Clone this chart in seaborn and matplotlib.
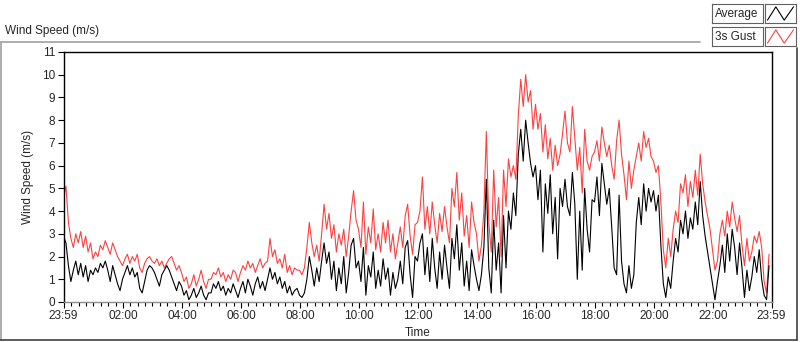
import numpy as np
import pandas as pd
import matplotlib
matplotlib.use('Agg')
import matplotlib.pyplot as plt
import matplotlib.dates as mdates
from matplotlib.lines import Line2D
import seaborn as sns

#DATA (5 minute samples, one row per hour)
######################################################
gust = [
    4.6, 5.1, 3.5, 2.8, 2.4, 3.0, 2.6, 3.1, 2.4, 2.9, 2.2, 2.6,
    1.9, 2.2, 2.0, 2.5, 2.3, 2.7, 2.4, 2.1, 2.6, 2.3, 2.0, 1.8,
    1.6, 1.9, 2.1, 1.7, 2.0, 1.8, 2.1, 1.5, 1.3, 1.7, 1.9, 2.0,
    1.8, 1.7, 1.9, 1.6, 1.8, 1.5, 1.7, 1.9, 2.0, 1.7, 1.4, 1.6,
    1.3, 0.9, 1.1, 0.6, 0.8, 1.2, 0.7, 1.0, 1.4, 0.9, 0.6, 1.0,
    1.0, 1.3, 1.2, 1.5, 1.1, 1.3, 0.9, 1.2, 1.0, 1.4, 1.3, 0.9,
    1.3, 1.6, 1.4, 1.8, 1.5, 1.7, 1.3, 1.6, 1.9, 1.5, 1.7, 1.8,
    2.8, 2.0, 2.3, 1.7, 1.9, 1.5, 2.1, 1.3, 1.6, 1.2, 1.5, 1.4,
    1.4, 1.2, 1.5, 2.4, 3.5, 2.6, 2.0, 2.5, 1.8, 3.0, 4.3, 3.2,
    3.9, 2.8, 3.4, 2.2, 3.0, 2.5, 3.2, 2.0, 2.9, 4.0, 4.9, 3.6,
    3.2, 2.4, 4.4, 2.1, 3.3, 2.6, 4.1, 2.3, 3.0, 2.2, 3.5, 2.6,
    3.6, 2.2, 3.0, 1.9, 2.6, 3.3, 2.4, 3.8, 4.3, 2.9, 2.1, 3.4,
    3.5, 4.0, 5.5, 3.2, 4.2, 3.0, 4.4, 3.4, 2.6, 3.9, 3.1, 4.2,
    3.3, 2.6, 5.0, 4.2, 5.7, 3.6, 4.8, 2.9, 3.8, 2.4, 4.4, 3.5,
    3.0, 1.8, 2.5, 4.0, 7.5, 3.5, 2.2, 5.8, 3.3, 4.6, 2.0, 5.8,
    4.2, 6.3, 5.5, 6.0, 5.4, 8.2, 9.8, 8.6, 10.0, 8.8, 9.3, 7.6,
    8.7, 7.6, 8.3, 6.6, 7.8, 6.3, 7.2, 5.8, 6.9, 6.0, 6.5, 7.4,
    8.4, 7.0, 6.6, 8.6, 7.2, 5.8, 6.8, 4.8, 7.6, 6.2, 5.8, 6.4,
    6.6, 7.1, 6.2, 7.7, 7.0, 6.4, 6.9, 6.0, 5.4, 7.1, 8.0, 6.5,
    5.6, 4.5, 6.2, 5.0, 5.8, 6.4, 7.0, 6.2, 7.5, 6.8, 7.2, 6.4,
    6.2, 5.7, 6.0, 4.4, 2.3, 1.5, 2.8, 2.0, 3.2, 4.0, 3.5, 5.2,
    4.8, 5.6, 4.2, 5.3, 4.6, 5.8, 4.7, 6.5, 5.2, 4.4, 3.8, 3.2,
    2.3, 1.4, 1.8, 3.0, 3.6, 2.9, 4.0, 3.3, 4.4, 3.7, 3.1, 3.8,
    2.5, 1.6, 2.8, 1.8, 2.2, 2.9, 2.6, 3.1, 2.4, 0.9, 0.4, 2.1,
]

average = [
    2.9, 2.6, 1.6, 0.9, 1.4, 1.8, 1.2, 1.7, 1.1, 1.6, 0.9, 1.4,
    1.2, 1.5, 1.3, 1.7, 1.5, 1.8, 1.4, 0.9, 1.6, 1.2, 0.8, 0.5,
    1.0, 1.3, 1.6, 1.2, 1.5, 1.1, 1.3, 0.6, 0.4, 0.9, 1.4, 1.6,
    1.5, 1.3, 1.0, 0.7, 1.2, 1.4, 1.6, 1.4, 1.1, 0.8, 0.5, 0.9,
    0.7, 0.3, 0.5, 0.1, 0.3, 0.6, 0.2, 0.4, 0.7, 0.3, 0.1, 0.4,
    0.4, 0.8, 0.6, 0.9, 0.5, 0.7, 0.3, 0.6, 0.4, 0.8, 0.5, 0.2,
    0.6, 0.9, 0.4, 1.0, 0.7, 0.3, 0.8, 1.1, 0.6, 0.9, 0.5, 1.0,
    1.5, 1.0, 1.3, 0.8, 1.1, 0.6, 0.9, 0.4, 0.7, 0.3, 0.5, 0.6,
    0.3, 0.2, 0.4, 1.0, 2.0, 1.4, 0.7, 1.5, 0.9, 1.8, 2.6, 1.7,
    2.2, 1.0, 1.8, 0.5, 1.5, 0.8, 2.0, 0.4, 1.3, 2.5, 2.8, 1.5,
    1.8, 0.9, 2.4, 0.3, 1.6, 1.1, 2.2, 0.6, 1.4, 0.7, 1.9, 1.0,
    1.5, 0.3, 1.3, 0.6, 1.0, 1.8, 0.8, 2.4, 2.7, 1.2, 0.2, 2.0,
    1.8, 2.6, 3.0, 1.2, 2.4, 0.9, 2.8, 1.5, 0.6, 2.2, 1.0, 2.5,
    1.5, 0.6, 2.8, 1.9, 3.4, 1.4, 2.6, 0.7, 1.8, 0.5, 2.3, 1.6,
    1.0, 0.5, 1.2, 2.4, 5.4, 1.5, 0.4, 3.6, 1.4, 2.6, 0.4, 3.8,
    1.5, 4.0, 3.2, 4.8, 3.8, 6.5, 7.6, 6.2, 8.0, 7.0, 6.1, 5.5,
    6.0, 4.5, 5.8, 2.2, 5.2, 3.9, 5.6, 3.0, 4.6, 1.9, 5.0, 4.2,
    5.4, 4.2, 3.8, 5.7, 4.3, 1.0, 4.0, 1.4, 5.0, 3.2, 2.2, 4.5,
    4.4, 5.5, 3.8, 6.1, 5.2, 4.3, 5.0, 3.3, 1.5, 1.2, 4.7, 1.8,
    0.8, 0.4, 1.6, 0.6, 1.2, 3.5, 4.6, 3.4, 5.2, 4.0, 5.0, 4.4,
    4.9, 4.0, 4.7, 2.5, 0.8, 0.2, 1.1, 0.6, 1.8, 2.8, 2.2, 3.6,
    3.0, 4.0, 2.8, 3.7, 3.2, 4.4, 3.4, 5.3, 3.8, 2.9, 2.2, 1.5,
    0.8, 0.1, 0.9, 1.6, 2.5, 1.3, 3.0, 1.8, 3.2, 2.4, 1.2, 2.6,
    1.5, 0.2, 1.4, 0.5, 1.1, 2.0, 1.3, 2.3, 1.0, 0.3, 0.1, 1.6,
]

series_names = ['3s Gust', 'Average']
series_colors = {'3s Gust': '#ff4040', 'Average': 'black'}
start_time = pd.Timestamp('2024-01-01 23:59')
end_time = pd.Timestamp('2024-01-02 23:59')
y_ticks = list(range(0, 12))

times = pd.date_range(start_time, periods=len(gust), freq='5min')
df = pd.DataFrame({
    'Time': np.concatenate([times, times]),
    'Wind Speed': gust + average,
    'Series': ['3s Gust'] * len(gust) + ['Average'] * len(average),
})

#PLOT
######################################################
sns.set_style('ticks')
plt.rcParams['font.family'] = ['Liberation Sans', 'DejaVu Sans']
plt.rcParams['font.size'] = 8.5

fig = plt.figure(figsize=(8, 3.42), dpi=100)
ax = fig.add_axes([63.5 / 800, 1 - 302 / 342, 708 / 800, 250 / 342])

sns.lineplot(data=df, x='Time', y='Wind Speed', hue='Series', hue_order=series_names,
             palette=series_colors, linewidth=0.8, legend=False, ax=ax)

ax.set_xlim(start_time, end_time)
ax.set_ylim(0, 11)
ax.set_yticks(y_ticks)

major = [start_time] + list(pd.date_range('2024-01-02 02:00', '2024-01-02 22:00', freq='2h')) + [end_time]
ax.set_xticks(major)
ax.xaxis.set_major_formatter(mdates.DateFormatter('%H:%M'))
ax.set_xticks(pd.date_range('2024-01-02 00:15', '2024-01-02 23:45', freq='15min'), minor=True)

ax.tick_params(axis='both', which='major', length=4, width=0.8, labelsize=8.5, color='black', pad=2)
ax.tick_params(axis='x', which='minor', length=3, width=0.8, color='black')

for s in ['top', 'left', 'right']:
    ax.spines[s].set_color('black')
    ax.spines[s].set_linewidth(1.0)
ax.spines['bottom'].set_color('#8c8c8c')
ax.spines['bottom'].set_linewidth(1.0)

ax.set_xlabel('Time', fontsize=8.5, labelpad=3)
ax.set_ylabel('Wind Speed (m/s)', fontsize=8.5, labelpad=6)

#Panel frame and label
fig.text(5 / 800, 1 - 31 / 342, 'Wind Speed (m/s)', va='center', ha='left', fontsize=8.5)
fig.add_artist(Line2D([0.5 / 800, 700 / 800], [1 - 42 / 342, 1 - 42 / 342], color='#a0a0a0', lw=1.2, transform=fig.transFigure))
fig.add_artist(Line2D([1 / 800, 1 / 800], [1 - 42 / 342, 1 - 340 / 342], color='#a0a0a0', lw=1.2, transform=fig.transFigure))
fig.add_artist(Line2D([0, 797 / 800], [1 - 340 / 342, 1 - 340 / 342], color='#404040', lw=1.2, transform=fig.transFigure))
fig.add_artist(Line2D([797 / 800, 797 / 800], [1 - 48 / 342, 1 - 340 / 342], color='#404040', lw=1.2, transform=fig.transFigure))

#Legend boxes
zig_x = [0.08, 0.35, 0.62, 0.92]
zig_y = [0.15, 0.85, 0.15, 0.85]
for i, name in enumerate(['Average', '3s Gust']):
    top = 4 + i * 23
    tax = fig.add_axes([712 / 800, 1 - (top + 19) / 342, 51 / 800, 19 / 342])
    tax.set_xticks([])
    tax.set_yticks([])
    tax.text(0.05, 0.5, name, va='center', ha='left', fontsize=8.5, transform=tax.transAxes)
    iax = fig.add_axes([765 / 800, 1 - (top + 19) / 342, 31 / 800, 19 / 342])
    iax.set_xticks([])
    iax.set_yticks([])
    iax.plot(zig_x, zig_y, color=series_colors[name], lw=0.8)
    iax.set_xlim(0, 1)
    iax.set_ylim(0, 1)
    for a in (tax, iax):
        for s in a.spines.values():
            s.set_color('#606060')
            s.set_linewidth(0.8)

fig.savefig('out.png', dpi=100)
